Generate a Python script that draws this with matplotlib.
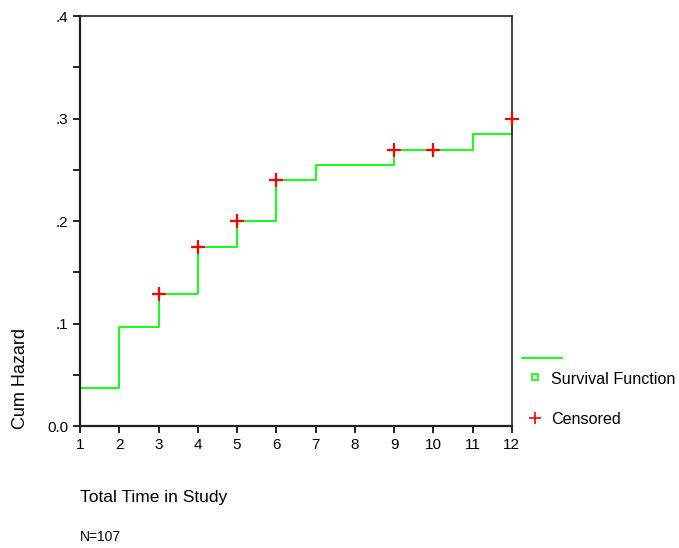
import matplotlib
matplotlib.use('Agg')
import matplotlib.pyplot as plt
from matplotlib.lines import Line2D

plt.rcParams['font.family'] = ['Liberation Sans', 'DejaVu Sans']

# step function of cumulative hazard
times = [1, 2, 3, 4, 5, 6, 7, 9, 11, 12]
hazard = [0.037, 0.097, 0.129, 0.175, 0.200, 0.240, 0.255, 0.269, 0.285, 0.300]
# censored points
cens_t = [3, 4, 5, 6, 9, 10, 12]
cens_h = [0.129, 0.175, 0.200, 0.240, 0.269, 0.269, 0.300]

xticks = list(range(1, 13))
yticks = [0.0, 0.1, 0.2, 0.3, 0.4]
ylabels = ['0.0', '.1', '.2', '.3', '.4']

fig = plt.figure(figsize=(6.79, 5.48), dpi=100)
ax = fig.add_axes([0.1178, 0.2226, 0.636, 0.748])

# steps: start at 0 at t=1, jump at each time, last jump at t=12
xs = [times[0]] + times
ys = [0.0] + hazard
ax.step(xs, ys, where='post', color='#00ff00', lw=1.3, clip_on=False)
ax.plot(cens_t, cens_h, '+', color='red', ms=10, mew=1.6, ls='none', clip_on=False, zorder=5)

ax.set_xlim(1, 12)
ax.set_ylim(0, 0.4)
ax.set_xticks(xticks)
ax.set_yticks(yticks)
ax.set_yticklabels(ylabels)
ax.set_yticks([0.05, 0.15, 0.25, 0.35], minor=True)
ax.tick_params(axis='both', which='major', length=5, width=1.2, labelsize=11, direction='out')
ax.tick_params(axis='y', which='minor', length=5, width=1.2)
for s in ax.spines.values():
    s.set_linewidth(1.2)
    s.set_color('#222222')
ax.spines['left'].set_linewidth(1.6)
ax.spines['bottom'].set_linewidth(1.6)

# legend drawn by hand to the right of the plot
W, H = 679.0, 548.0
fig.add_artist(Line2D([522 / W, 562 / W], [1 - 358 / H, 1 - 358 / H], color='#00ff00', lw=1.3))
fig.add_artist(Line2D([535 / W], [1 - 377 / H], marker='s', color='#00ff00', mfc='white',
                      ms=5, mew=1.2, ls='none'))
fig.add_artist(Line2D([535 / W], [1 - 418 / H], marker='+', color='red', ms=9, mew=1.2, ls='none'))
fig.text(551 / W, 1 - 380 / H, 'Survival Function', fontsize=11.6, ha='left', va='center')
fig.text(551 / W, 1 - 420 / H, 'Censored', fontsize=11.6, ha='left', va='center')

fig.text(0.03, 0.218, 'Cum Hazard', rotation=90, fontsize=13, ha='center', va='bottom')
fig.text(0.1178, 0.093, 'Total Time in Study', fontsize=12.5, ha='left', va='center')
fig.text(0.1178, 0.02, 'N=107', fontsize=10, ha='left', va='center')

fig.savefig('out.png', dpi=100)
